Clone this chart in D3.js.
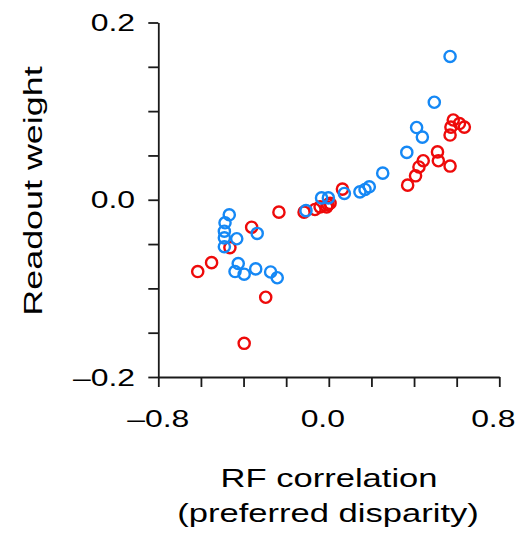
<!DOCTYPE html>
<html>
<head>
<meta charset="utf-8">
<script src="https://cdn.jsdelivr.net/npm/d3@7"></script>
<style>
  body { margin: 0; background: #fff; }
  text { font-family: "Liberation Sans", Arial, sans-serif; fill: #000; }
</style>
</head>
<body>
<div id="chart"></div>
<script>
// RF correlation (x) vs readout weight (y)
const redX = [-0.234, -0.362, -0.464, -0.550, -0.615, -0.296, -0.397, -0.116, -0.065, -0.041, -0.010, -0.004, 0.006, 0.064,
  0.584, 0.613, 0.636, 0.573, 0.569, 0.510, 0.514, 0.569, 0.443, 0.423, 0.407, 0.370];
const redY = [-0.014, -0.031, -0.054, -0.071, -0.081, -0.110, -0.162, -0.014, -0.011, -0.008, -0.008, -0.0055, -0.004, 0.012,
  0.090, 0.086, 0.082, 0.082, 0.073, 0.054, 0.044, 0.038, 0.044, 0.037, 0.027, 0.0165];
const blueX = [-0.467, -0.487, -0.490, -0.490, -0.490, -0.432, -0.336, -0.425, -0.440, -0.397, -0.343, -0.273, -0.242,
  0.253, 0.190, 0.170, 0.146, 0.073, -0.002, -0.034, -0.107, 0.569, 0.495, 0.412, 0.439, 0.366];
const blueY = [-0.017, -0.026, -0.0355, -0.043, -0.053, -0.044, -0.038, -0.072, -0.081, -0.084, -0.078, -0.0815, -0.088,
  0.030, 0.0146, 0.0116, 0.0089, 0.0071, 0.0021, 0.0021, -0.0123, 0.1617, 0.110, 0.0815, 0.0707, 0.0534];

const xTicks = [-0.8, -0.6, -0.4, -0.2, 0, 0.2, 0.4, 0.6, 0.8];
const xLabels = [-0.8, 0, 0.8];
const yTicks = [-0.2, -0.15, -0.1, -0.05, 0, 0.05, 0.1, 0.15, 0.2];
const yLabels = [-0.2, 0, 0.2];

const W = 526, H = 542;
const wide = 1.33; // the lettering in the figure is wider than Arial
const fmt = v => (v < 0 ? "\u2013" : "") + Math.abs(v).toFixed(1);

const x = d3.scaleLinear().domain([-0.8, 0.8]).range([158.3, 499.3]);
const y = d3.scaleLinear().domain([-0.2, 0.2]).range([377, 22.5]);

const svg = d3.select("#chart").append("svg")
  .attr("width", W)
  .attr("height", H);

// axes
const xAxis = svg.append("g")
  .attr("transform", "translate(0," + y(-0.2) + ")")
  .call(d3.axisBottom(x).tickValues(xTicks).tickSize(10).tickFormat("").tickSizeOuter(0));

const yAxis = svg.append("g")
  .attr("transform", "translate(" + x(-0.8) + ",0)")
  .call(d3.axisLeft(y).tickValues(yTicks).tickSize(10).tickFormat("").tickSizeOuter(0));

[xAxis, yAxis].forEach(a => {
  a.selectAll("path, line").attr("stroke", "#1a1a1a").attr("stroke-width", 1.8);
});

svg.selectAll(".xlab")
  .data(xLabels)
  .enter().append("text")
  .attr("transform", d => "translate(" + (x(d) - (d >= 0 ? 6 : 0)) + ",427) scale(" + wide + ",1)")
  .attr("text-anchor", "middle")
  .attr("font-size", "24px")
  .text(fmt);

svg.selectAll(".ylab")
  .data(yLabels)
  .enter().append("text")
  .attr("transform", d => "translate(135," + (y(d) + 8.5) + ") scale(" + wide + ",1)")
  .attr("text-anchor", "end")
  .attr("font-size", "24px")
  .text(fmt);

// titles
svg.append("text")
  .attr("transform", "translate(329,487) scale(" + wide + ",1)")
  .attr("text-anchor", "middle")
  .attr("font-size", "26px")
  .text("RF correlation");

svg.append("text")
  .attr("transform", "translate(328,522) scale(" + wide + ",1)")
  .attr("text-anchor", "middle")
  .attr("font-size", "26px")
  .text("(preferred disparity)");

svg.append("text")
  .attr("transform", "translate(42,191) rotate(-90) scale(1.38,1)")
  .attr("text-anchor", "middle")
  .attr("font-size", "26px")
  .text("Readout weight");

// points
const red = redX.map((v, i) => ({ x: v, y: redY[i] }));
const blue = blueX.map((v, i) => ({ x: v, y: blueY[i] }));

svg.append("g").selectAll("circle")
  .data(red)
  .enter().append("circle")
  .attr("cx", d => x(d.x))
  .attr("cy", d => y(d.y))
  .attr("r", 5.6)
  .attr("fill", "none")
  .attr("stroke", "#ee0a0a")
  .attr("stroke-width", 2.4);

svg.append("g").selectAll("circle")
  .data(blue)
  .enter().append("circle")
  .attr("cx", d => x(d.x))
  .attr("cy", d => y(d.y))
  .attr("r", 5.6)
  .attr("fill", "none")
  .attr("stroke", "#1588f5")
  .attr("stroke-width", 2.4);
</script>
</body>
</html>
